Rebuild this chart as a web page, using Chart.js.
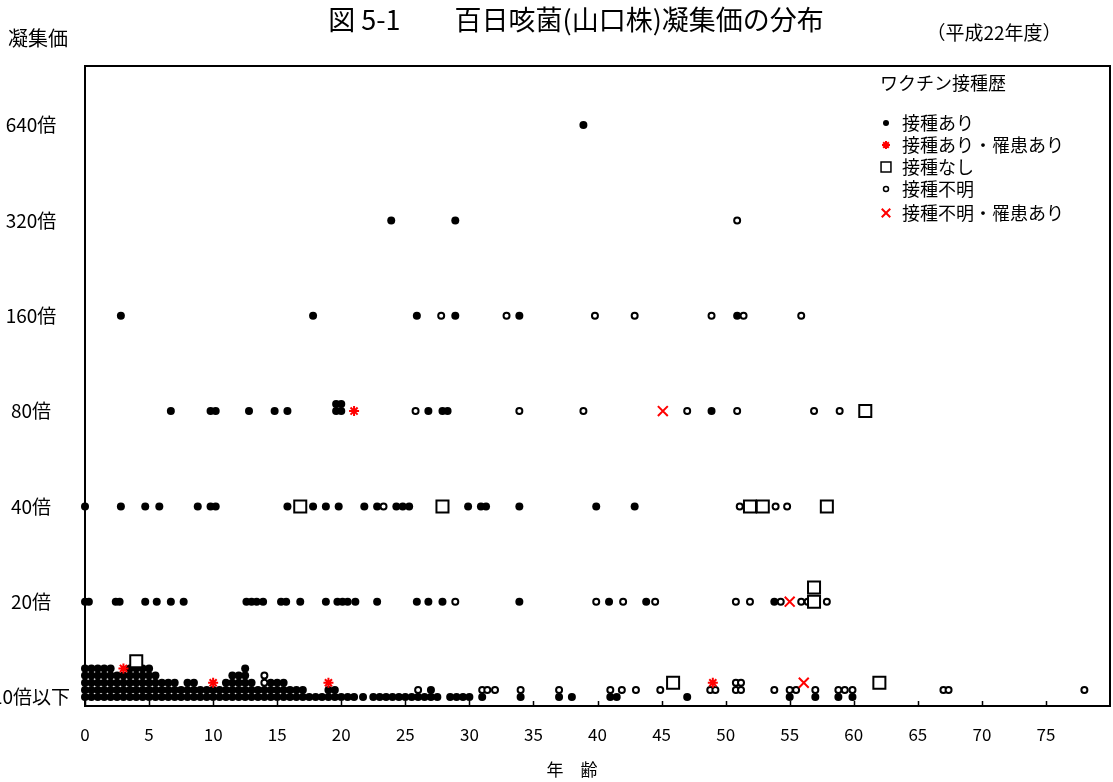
<!DOCTYPE html>
<html>
<head>
<meta charset="utf-8">
<script src="https://cdn.jsdelivr.net/npm/chart.js@4.4.0/dist/chart.umd.min.js"></script>
<style>
  html, body { margin: 0; padding: 0; background: #fff; overflow: hidden; }
  #wrap { width: 1113px; height: 782px; }
  canvas { display: block; }
</style>
</head>
<body>
<div id="wrap"><canvas id="titerChart" width="1113" height="782"></canvas></div>
<script>
// titer levels (index 0 = 10倍以下 ... 6 = 640倍)
const titerLabels = ["10倍以下", "20倍", "40倍", "80倍", "160倍", "320倍", "640倍"];
const xTickValues = [0, 5, 10, 15, 20, 25, 30, 35, 40, 45, 50, 55, 60, 65, 70, 75];
const seriesNames = ["接種あり", "接種あり・罹患あり", "接種なし", "接種不明", "接種不明・罹患あり"];

// 接種あり: ages at each titer
const vaccinated640 = [38.9];
const vaccinated320 = [23.9, 28.9];
const vaccinated160 = [2.8, 17.8, 25.9, 28.9, 33.9, 50.9];
const vaccinated80 = [6.7, 9.8, 10.2, 12.8, 14.8, 15.8, 19.6, 19.6, 20.0, 20.0, 26.8, 27.9, 28.3, 48.9];
const vaccinated40 = [0, 2.8, 4.7, 5.8, 8.8, 9.8, 10.2, 15.8, 17.8, 18.8, 19.8, 21.8, 22.8, 24.3, 24.8, 25.3,
    29.9, 30.9, 31.3, 33.9, 39.9, 42.9];
const vaccinated20 = [0, 0.3, 2.4, 2.7, 4.7, 5.6, 6.7, 7.7, 12.6, 13.0, 13.4, 13.9, 15.3, 15.7, 16.8, 18.8,
    19.7, 20.1, 20.5, 21.1, 22.8, 25.9, 26.8, 27.9, 33.9, 40.9, 43.8, 53.8];
// 接種あり 10倍以下: [age, number of people]
const vaccinatedLow = [
    [0, 5], [0.5, 5], [1, 5], [1.5, 5], [2, 5], [2.5, 4], [3, 4], [3.5, 5], [4, 5], [4.5, 5], [5, 5],
    [5.5, 4], [6, 3], [6.5, 3], [7, 3], [7.5, 2], [8, 3], [8.5, 3], [9, 2], [9.5, 2], [10, 2], [10.5, 2],
    [11, 3], [11.5, 4], [12, 4], [12.5, 5], [13, 3], [13.5, 2], [14, 2], [14.5, 3], [15, 3], [15.5, 3],
    [16, 2], [16.5, 2], [17, 2], [17.5, 1], [18, 1], [18.5, 1], [19, 2], [19.5, 2], [20, 1], [20.5, 1],
    [21, 1], [21.7, 1], [22.5, 1], [23, 1], [23.5, 1], [24, 1], [24.5, 1], [25, 1], [25.5, 1], [26, 1],
    [26.5, 1], [27, 2], [27.5, 1], [28.5, 1], [29, 1], [29.5, 1], [30, 1], [31, 1], [34, 1], [37, 1],
    [38, 1], [41, 1], [41.5, 1], [47, 1], [55, 1], [57, 1], [58.8, 1], [59.9, 1]
];

// 接種不明: [age, titer index]
const unknownPoints = [
    [50.9, 5],
    [27.8, 4], [32.9, 4], [39.8, 4], [42.9, 4], [48.9, 4], [51.4, 4], [55.9, 4],
    [25.8, 3], [33.9, 3], [38.9, 3], [47.0, 3], [50.9, 3], [56.9, 3], [58.9, 3],
    [23.3, 2], [51.1, 2], [53.9, 2], [54.8, 2],
    [28.9, 1], [39.9, 1], [42.0, 1], [44.5, 1], [50.8, 1], [51.9, 1], [54.3, 1], [55.9, 1], [56.4, 1], [57.9, 1],
    [14, 0], [14, 0], [26, 0], [31, 0], [31.4, 0], [32, 0], [34, 0], [37, 0], [41, 0], [41.9, 0], [43, 0],
    [44.9, 0], [48.8, 0], [49.2, 0], [50.8, 0], [50.8, 0], [51.2, 0], [51.2, 0], [53.8, 0], [55, 0], [55.5, 0],
    [57, 0], [58.8, 0], [59.3, 0], [59.9, 0], [67, 0], [67.4, 0], [78, 0]
];
// 接種なし
const noVaccinePoints = [[4, 0], [45.9, 0], [62, 0], [56.9, 1], [56.9, 1],
    [16.8, 2], [27.9, 2], [51.9, 2], [52.9, 2], [57.9, 2], [60.9, 3]];
// 接種あり・罹患あり
const vaccInfectedPoints = [[3, 0], [10, 0], [19, 0], [49, 0], [21, 3]];
// 接種不明・罹患あり
const unknownInfectedPoints = [[56.1, 0], [55, 1], [45.1, 3]];

// people with the same age and titer are piled up
const STEP = 0.075;
const nextSlot = new Map();
function pile(pairs, lowBase, size) {
    return pairs.map(([age, titer]) => {
        const key = titer + "|" + age;
        const slot = Math.max(titer === 0 ? lowBase : 0, nextSlot.get(key) || 0);
        nextSlot.set(key, slot + size);
        return { x: age, y: titer + slot * STEP };
    });
}

const vaccinatedPairs = [];
vaccinatedLow.forEach(([age, n]) => { for (let i = 0; i < n; i++) vaccinatedPairs.push([age, 0]); });
[vaccinated20, vaccinated40, vaccinated80, vaccinated160, vaccinated320, vaccinated640].forEach((ages, i) => {
    ages.forEach(a => vaccinatedPairs.push([a, i + 1]));
});

const vaccinatedData = pile(vaccinatedPairs, 0, 1);
const unknownData = pile(unknownPoints, 1, 1);
const noVaccineData = pile(noVaccinePoints, 2, 2);
const vaccInfectedData = pile(vaccInfectedPoints, 2, 1);
const unknownInfectedData = pile(unknownInfectedPoints, 2, 1);

const FONT = '"Noto Sans CJK JP", "Noto Sans", sans-serif';

const legendItems = [
    { pointStyle: "circle", radius: 3, fill: "#000", stroke: "#000", borderWidth: 0 },
    { pointStyle: "star", radius: 4, fill: "#f00", stroke: "#f00", borderWidth: 2 },
    { pointStyle: "rect", radius: 7, fill: "#fff", stroke: "#000", borderWidth: 1.5 },
    { pointStyle: "circle", radius: 2.5, fill: "#fff", stroke: "#000", borderWidth: 1.5 },
    { pointStyle: "crossRot", radius: 6, fill: "#f00", stroke: "#f00", borderWidth: 2 }
];

const decorations = {
    id: "decorations",
    beforeDraw(chart) {
        const ctx = chart.ctx;
        ctx.save();
        ctx.fillStyle = "#fff";
        ctx.fillRect(0, 0, chart.width, chart.height);
        ctx.restore();
    },
    beforeDatasetsDraw(chart) {
        const { ctx, chartArea: a, scales: { x } } = chart;
        ctx.save();
        ctx.strokeStyle = "#000";
        ctx.lineWidth = 2;
        ctx.strokeRect(a.left, a.top, a.right - a.left, a.bottom - a.top);
        ctx.beginPath();
        xTickValues.forEach(v => {
            const px = Math.round(x.getPixelForValue(v)) + 0.5;
            ctx.moveTo(px, a.bottom);
            ctx.lineTo(px, a.bottom - 5);
        });
        ctx.lineWidth = 1.5;
        ctx.stroke();
        ctx.restore();
    },
    afterDraw(chart) {
        const ctx = chart.ctx;
        ctx.save();
        ctx.fillStyle = "#000";
        ctx.textBaseline = "middle";

        ctx.font = "27px " + FONT;
        ctx.textAlign = "center";
        ctx.fillText("図 5-1　　百日咳菌(山口株)凝集価の分布", 576, 20);

        ctx.font = "19px " + FONT;
        ctx.fillText("（平成22年度）", 994, 33);
        ctx.font = "17px " + FONT;
        ctx.fillText("年　齢", 572, 770);

        ctx.textAlign = "left";
        ctx.font = "20px " + FONT;
        ctx.fillText("凝集価", 8, 38);

        // legend
        ctx.font = "18px " + FONT;
        ctx.fillText("ワクチン接種歴", 880, 83);
        const rows = [123, 145, 167, 189, 213];
        legendItems.forEach((it, i) => {
            ctx.fillStyle = it.fill;
            ctx.strokeStyle = it.stroke;
            ctx.lineWidth = it.borderWidth;
            if (Chart.helpers && Chart.helpers.drawPoint) {
                Chart.helpers.drawPoint(ctx, { pointStyle: it.pointStyle, radius: it.radius, rotation: 0, borderWidth: it.borderWidth }, 886, rows[i]);
            }
            ctx.fillStyle = "#000";
            ctx.fillText(seriesNames[i], 902, rows[i]);
        });
        ctx.restore();
    }
};

new Chart(document.getElementById("titerChart").getContext("2d"), {
    type: "scatter",
    data: {
        datasets: [
            {
                label: seriesNames[4], data: unknownInfectedData, order: 1, clip: false,
                pointStyle: "crossRot", radius: 7, borderWidth: 2,
                backgroundColor: "#f00", borderColor: "#f00"
            },
            {
                label: seriesNames[1], data: vaccInfectedData, order: 2, clip: false,
                pointStyle: "star", radius: 5, borderWidth: 2,
                backgroundColor: "#f00", borderColor: "#f00"
            },
            {
                label: seriesNames[2], data: noVaccineData, order: 3, clip: false,
                pointStyle: "rect", radius: 8.5, borderWidth: 2,
                backgroundColor: "#fff", borderColor: "#000"
            },
            {
                label: seriesNames[3], data: unknownData, order: 4, clip: false,
                pointStyle: "circle", radius: 3, borderWidth: 2,
                backgroundColor: "#fff", borderColor: "#000"
            },
            {
                label: seriesNames[0], data: vaccinatedData, order: 5, clip: false,
                pointStyle: "circle", radius: 4, borderWidth: 0,
                backgroundColor: "#000", borderColor: "#000"
            }
        ]
    },
    options: {
        responsive: false,
        animation: false,
        events: [],
        layout: { autoPadding: false, padding: { top: 66, right: 3, bottom: 0, left: 0 } },
        plugins: {
            legend: { display: false },
            tooltip: { enabled: false }
        },
        scales: {
            x: {
                type: "linear",
                min: 0,
                max: 80,
                grid: { display: false, drawTicks: false },
                border: { display: false },
                afterBuildTicks: scale => { scale.ticks = xTickValues.map(v => ({ value: v })); },
                afterFit: scale => { scale.height = 76; scale.paddingLeft = 0; scale.paddingRight = 0; },
                ticks: {
                    color: "#000",
                    padding: 18,
                    maxRotation: 0,
                    autoSkip: false,
                    font: { family: FONT, size: 17 }
                }
            },
            y: {
                type: "linear",
                min: -0.094,
                max: 6.62,
                grid: { display: false, drawTicks: false },
                border: { display: false },
                afterBuildTicks: scale => { scale.ticks = titerLabels.map((_, i) => ({ value: i })); },
                afterFit: scale => { scale.width = 85; scale.paddingTop = 0; scale.paddingBottom = 0; },
                ticks: {
                    color: "#000",
                    padding: 15,
                    crossAlign: "center",
                    autoSkip: false,
                    font: { family: FONT, size: 19 },
                    callback: (value, index) => titerLabels[index]
                }
            }
        }
    },
    plugins: [decorations]
});
</script>
</body>
</html>
